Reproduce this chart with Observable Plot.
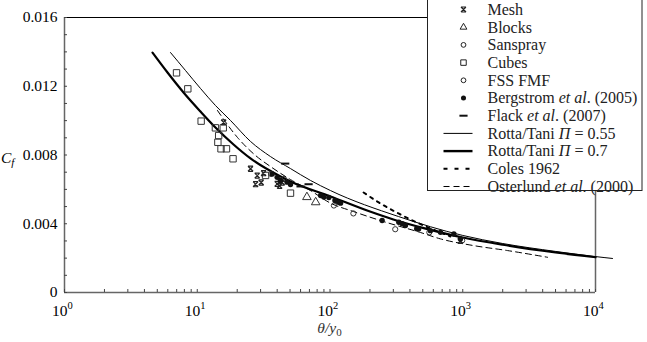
<!DOCTYPE html>
<html><head><meta charset="utf-8">
<script src="https://cdn.jsdelivr.net/npm/d3@7"></script>
<script src="https://cdn.jsdelivr.net/npm/@observablehq/plot@0.6"></script>
<style>body{margin:0;background:#fff}</style>
</head><body><div id="chart"></div>
<script>
// ---- data ----
const thickTheta = [4.6, 5.97, 7.88, 10.58, 13.72, 18.76, 25.18, 42.4, 50.4, 100.9, 200, 300, 500, 1000, 2000, 5000, 10000];
const thickCf    = [0.01396, 0.0128, 0.01164, 0.01053, 0.0096, 0.00861, 0.0078, 0.00675, 0.00646, 0.00559, 0.00471, 0.00425, 0.00376, 0.0032, 0.00278, 0.00233, 0.00205];
const thinTheta  = [6.29, 8.15, 10.58, 13.72, 17.8, 25.18, 35.6, 50.4, 71.3, 100.9, 328, 1000, 2000, 5000, 10000, 13430];
const thinCf     = [0.01396, 0.01292, 0.01187, 0.01088, 0.01001, 0.00879, 0.00791, 0.00721, 0.00652, 0.00593, 0.00442, 0.00332, 0.00285, 0.00239, 0.00209, 0.00198];
const colesTheta = [179, 240, 328, 506, 808];
const colesCf    = [0.00582, 0.00518, 0.0046, 0.0039, 0.00326];
const osterTheta = [14.2, 20.1, 27.5, 35.6, 50.4, 71.3, 100.9, 150.3, 253, 481, 679, 1205, 2173, 4350];
const osterCf    = [0.01059, 0.00902, 0.00797, 0.00733, 0.00657, 0.00593, 0.0052, 0.00471, 0.00413, 0.00349, 0.00312, 0.00273, 0.00244, 0.00205];

const meshTheta = [15.8, 25.2, 28.3, 27.5, 30.3, 31.6, 40, 41.7, 43.6, 960];
const meshCf    = [0.0099, 0.0072, 0.0068, 0.0063, 0.0064, 0.00694, 0.00632, 0.0062, 0.0064, 0.0030];
const blocksTheta = [67, 78];
const blocksCf    = [0.00555, 0.00525];
const sansTheta = [107, 150, 310];
const sansCf    = [0.00506, 0.0046, 0.00368];
const cubesTheta = [6.98, 8.49, 10.7, 13.7, 15.7, 14.5, 14.3, 15.1, 16.6, 18.6, 32.7, 50.4];
const cubesCf    = [0.01278, 0.01185, 0.00997, 0.00958, 0.00958, 0.00913, 0.00874, 0.00836, 0.00836, 0.00778, 0.00681, 0.00578];
const fssTheta = [36, 45, 560, 990];
const fssCf    = [0.0069, 0.0066, 0.0035, 0.00303];
const bergTheta = [36.7, 40, 42.3, 47.5, 50.4, 85, 89.8, 98, 109, 116, 120, 247, 330, 350, 370, 450, 465, 570, 680, 857, 960];
const bergCf    = [0.0069, 0.0067, 0.00652, 0.00642, 0.00628, 0.00564, 0.00555, 0.00553, 0.00535, 0.00525, 0.0052, 0.00419, 0.00409, 0.0040, 0.0039, 0.00371, 0.0037, 0.0036, 0.0035, 0.0034, 0.00312];
const flackTheta = [46, 69, 60];
const flackCf    = [0.0075, 0.0063, 0.00617];

const yTickVals = [0, 0.004, 0.008, 0.012, 0.016];
const yTickLabels = ["0", "0.004", "0.008", "0.012", "0.016"];
const xTickVals = [1, 10, 100, 1000, 10000];
const xTickExps = ["0", "1", "2", "3", "4"];

const legendLabels = [
  [["Mesh", false]],
  [["Blocks", false]],
  [["Sanspray", false]],
  [["Cubes", false]],
  [["FSS FMF", false]],
  [["Bergstrom ", false], ["et al", true], [". (2005)", false]],
  [["Flack ", false], ["et al", true], [". (2007)", false]],
  [["Rotta/Tani ", false], ["Π", true], [" = 0.55", false]],
  [["Rotta/Tani ", false], ["Π", true], [" = 0.7", false]],
  [["Coles 1962", false]],
  [["Osterlund ", false], ["et al", true], [". (2000)", false]]
];

// ---- helpers ----
const zip = (xs, ys) => xs.map((x, i) => ({x, y: ys[i]}));
const yMinor = d3.range(0, 0.0161, 0.001);
const xMinor = [0, 1, 2, 3].flatMap(k => [1,2,3,4,5,6,7,8,9].map(m => m * 10 ** k)).concat([10000]);

const meshSymbol = {draw(ctx, size) {
  const s = Math.sqrt(size) / 2.1;
  ctx.moveTo(-s, -s); ctx.lineTo(s, s);
  ctx.moveTo(s, -s); ctx.lineTo(-s, s);
  ctx.moveTo(-s, -s); ctx.lineTo(s, -s);
  ctx.moveTo(-s, s); ctx.lineTo(s, s);
}};
const dashSymbol = {draw(ctx, size) {
  const s = Math.sqrt(size) / 1.3;
  ctx.moveTo(-s, 0); ctx.lineTo(s, 0);
}};

const W = 647, H = 342, mL = 64, mR = 52, mT = 17, mB = 50;
const plotW = W - mL - mR, plotH = H - mT - mB;
const axisGray = "#666";

const chart = Plot.plot({
  width: W, height: H,
  marginLeft: mL, marginRight: mR, marginTop: mT, marginBottom: mB,
  style: {fontFamily: "'Liberation Serif', 'Times New Roman', serif", fontSize: "15px", background: "white", color: "black"},
  x: {type: "log", domain: [1, 10000], axis: null},
  y: {domain: [0, 0.016], axis: null},
  marks: [
    // frame
    Plot.ruleY([0.016], {stroke: "black", strokeWidth: 1}),
    Plot.ruleY([0], {stroke: axisGray, strokeWidth: 1.5}),
    Plot.ruleX([1], {stroke: axisGray, strokeWidth: 1.5}),
    Plot.ruleX([10000], {stroke: axisGray, strokeWidth: 1.5}),
    // inward ticks
    Plot.tickY(yMinor, {y: d => d, insetRight: plotW - 3, stroke: "#444"}),
    Plot.tickX(xMinor, {x: d => d, insetTop: plotH - 3, stroke: "#444"}),
    // y axis labels
    Plot.axisY({ticks: yTickVals, tickSize: 0, tickPadding: 7, label: null,
      tickFormat: d => yTickLabels[yTickVals.indexOf(d)], fontSize: 15.5}),
    // x labels 10^k
    Plot.text(xTickVals, {x: d => d, frameAnchor: "bottom", text: () => "10", textAnchor: "end",
      lineAnchor: "bottom", dx: 3, dy: 23, fontSize: 15.5}),
    Plot.text(xTickVals, {x: d => d, frameAnchor: "bottom", text: (d, i) => xTickExps[i], textAnchor: "start",
      lineAnchor: "bottom", dx: 3, dy: 16, fontSize: 10.5}),
    // curves
    Plot.line(zip(osterTheta, osterCf), {x: "x", y: "y", stroke: "black", strokeWidth: 1, strokeDasharray: "6,4", curve: "monotone-x"}),
    Plot.line(zip(colesTheta, colesCf), {x: "x", y: "y", stroke: "black", strokeWidth: 2, strokeDasharray: "3,5", curve: "monotone-x"}),
    Plot.line(zip(thinTheta, thinCf), {x: "x", y: "y", stroke: "black", strokeWidth: 1, curve: "monotone-x"}),
    Plot.line(zip(thickTheta, thickCf), {x: "x", y: "y", stroke: "black", strokeWidth: 2.2, curve: "monotone-x"}),
    // markers
    Plot.dot(zip(cubesTheta, cubesCf), {x: "x", y: "y", symbol: "square", r: 3.6, stroke: "#333", strokeWidth: 1, fill: "none"}),
    Plot.dot(zip(blocksTheta, blocksCf), {x: "x", y: "y", symbol: "triangle", r: 3.2, stroke: "#333", strokeWidth: 1, fill: "none"}),
    Plot.dot(zip(sansTheta, sansCf), {x: "x", y: "y", symbol: "circle", r: 2.6, stroke: "#333", strokeWidth: 1, fill: "none"}),
    Plot.dot(zip(fssTheta, fssCf), {x: "x", y: "y", symbol: "circle", r: 2.6, stroke: "#333", strokeWidth: 1, fill: "none"}),
    Plot.dot(zip(meshTheta, meshCf), {x: "x", y: "y", symbol: meshSymbol, r: 3, stroke: "#222", strokeWidth: 1.2, fill: "none"}),
    Plot.dot(zip(bergTheta, bergCf), {x: "x", y: "y", symbol: "circle", r: 2.7, fill: "#111", stroke: "none"}),
    Plot.dot(zip(flackTheta, flackCf), {x: "x", y: "y", symbol: dashSymbol, r: 3, stroke: "#111", strokeWidth: 2, fill: "none"})
  ]
});
document.getElementById("chart").appendChild(chart);

// ---- axis titles and legend (drawn on the plot's svg) ----
const svg = d3.select(chart);
const serif = "'Liberation Serif', 'Times New Roman', serif";

const cf = svg.append("text").attr("x", 1).attr("y", 163).attr("text-anchor", "start")
  .attr("font-family", serif).attr("font-size", 15.5).attr("fill", "black");
cf.append("tspan").attr("font-style", "italic").text("C");
cf.append("tspan").attr("font-style", "italic").attr("font-size", 11).attr("dy", 3).text("f");

const xl = svg.append("text").attr("x", mL + plotW / 2).attr("y", 333).attr("text-anchor", "middle")
  .attr("font-family", serif).attr("font-size", 15.5).attr("fill", "#333");
xl.append("tspan").attr("font-style", "italic").text("θ/y");
xl.append("tspan").attr("font-size", 11).attr("dy", 3).text("0");

const lg = svg.append("g");
lg.append("rect").attr("x", 427.5).attr("y", -1).attr("width", 214.5).attr("height", 191.5)
  .attr("fill", "white").attr("stroke", "#222").attr("stroke-width", 1);
const rowY = i => 9.5 + i * 17.7;
const symX = 463.5, txtX = 487.5;
const symDefs = [
  {sym: meshSymbol, size: 28, fill: "none", stroke: "#222", sw: 1.2},
  {sym: d3.symbolTriangle, size: 20, fill: "none", stroke: "#222", sw: 1},
  {sym: d3.symbolCircle, size: 18, fill: "none", stroke: "#222", sw: 1},
  {sym: d3.symbolSquare, size: 30, fill: "none", stroke: "#222", sw: 1},
  {sym: d3.symbolCircle, size: 18, fill: "none", stroke: "#222", sw: 1},
  {sym: d3.symbolCircle, size: 20, fill: "#111", stroke: "none", sw: 0},
  {sym: dashSymbol, size: 28, fill: "none", stroke: "#111", sw: 2}
];
symDefs.forEach((s, i) => {
  lg.append("path").attr("d", d3.symbol(s.sym, s.size)())
    .attr("transform", `translate(${symX},${rowY(i)})`)
    .attr("fill", s.fill).attr("stroke", s.stroke).attr("stroke-width", s.sw);
});
const lineDefs = [
  {sw: 1, dash: null},
  {sw: 2.4, dash: null},
  {sw: 2, dash: "4,7"},
  {sw: 1, dash: "6,4"}
];
lineDefs.forEach((l, j) => {
  const i = 7 + j;
  lg.append("line").attr("x1", 443.5).attr("x2", 472.5).attr("y1", rowY(i)).attr("y2", rowY(i))
    .attr("stroke", "black").attr("stroke-width", l.sw).attr("stroke-dasharray", l.dash);
});
legendLabels.forEach((parts, i) => {
  const t = lg.append("text").attr("x", txtX).attr("y", rowY(i) + 5.3).attr("text-anchor", "start")
    .attr("font-family", serif).attr("font-size", 16).attr("fill", "#222");
  parts.forEach(([s, it]) => t.append("tspan").attr("font-style", it ? "italic" : "normal").text(s));
});
</script>
</body></html>
